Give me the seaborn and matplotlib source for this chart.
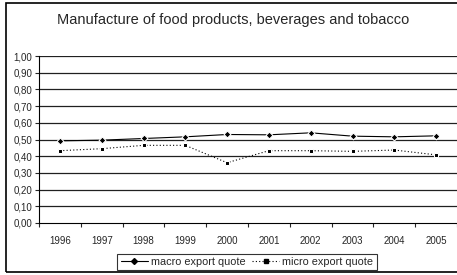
import matplotlib
matplotlib.use("Agg")
import matplotlib.pyplot as plt
from matplotlib.patches import Rectangle
from matplotlib.lines import Line2D
import numpy as np
import pandas as pd
import seaborn as sns

years = ["1996", "1997", "1998", "1999", "2000", "2001", "2002", "2003", "2004", "2005"]
macro_quote = [0.492, 0.496, 0.506, 0.516, 0.530, 0.528, 0.540, 0.520, 0.516, 0.522]
micro_quote = [0.433, 0.445, 0.465, 0.465, 0.361, 0.433, 0.433, 0.429, 0.437, 0.408]
y_ticks = [0.0, 0.1, 0.2, 0.3, 0.4, 0.5, 0.6, 0.7, 0.8, 0.9, 1.0]

sns.set_theme(style="white")
plt.rcParams["font.family"] = ["Liberation Sans", "DejaVu Sans"]

df = pd.DataFrame({
    "year": years * 2,
    "value": macro_quote + micro_quote,
    "series": ["macro export quote"] * len(years) + ["micro export quote"] * len(years),
})

fig = plt.figure(figsize=(4.57, 2.75), dpi=100)
ax = fig.add_axes([39 / 457, 1 - 223 / 275, 1 - 39 / 457, (223 - 56) / 275])

for v in y_ticks[1:]:
    ax.axhline(v, color="#202020", lw=0.9, zorder=0)

sns.lineplot(
    data=df, x="year", y="value", hue="series", style="series",
    palette={"macro export quote": "black", "micro export quote": "black"},
    markers={"macro export quote": "D", "micro export quote": "s"},
    dashes={"macro export quote": "", "micro export quote": (1, 2)},
    markersize=3.5, linewidth=0.8, ax=ax, legend=False,
)

ax.set_xlim(-0.5, 9.5)
ax.set_ylim(0, 1)
ax.set_yticks(y_ticks)
ax.set_yticklabels([f"{v:.2f}".replace(".", ",") for v in y_ticks])
ax.set_xticks(range(len(years)))
ax.set_xticklabels(years)
ax.set_xticks(np.arange(-0.5, 10, 1), minor=True)
ax.tick_params(axis="x", which="major", length=0, pad=9, labelsize=7)
ax.tick_params(axis="x", which="minor", length=3, width=0.8, direction="out", bottom=True)
ax.tick_params(axis="y", length=3, width=0.8, direction="out", left=True, labelsize=7, pad=2)
ax.set_xlabel("")
ax.set_ylabel("")
for side in ["top", "right"]:
    ax.spines[side].set_visible(False)
for side in ["left", "bottom"]:
    ax.spines[side].set_color("black")
    ax.spines[side].set_linewidth(0.8)

fig.text(0.51, 1 - 20 / 275, "Manufacture of food products, beverages and tobacco",
         ha="center", va="center", fontsize=10.5)

handles = [
    Line2D([], [], color="black", lw=0.8, marker="D", markersize=3),
    Line2D([], [], color="black", lw=0.8, ls=(0, (1, 2)), marker="s", markersize=3),
]
leg = fig.legend(handles, ["macro export quote", "micro export quote"],
                 loc="center", bbox_to_anchor=(247 / 457, 1 - 262 / 275), ncol=2,
                 fontsize=7.8, frameon=True, fancybox=False, handlelength=2.5,
                 handletextpad=0.3, columnspacing=0.6, borderpad=0.3)
leg.get_frame().set_edgecolor("black")
leg.get_frame().set_linewidth(0.8)

fig.patches.append(Rectangle((6 / 457, 3 / 275), 460 / 457, 269 / 275,
                             transform=fig.transFigure, fill=False,
                             edgecolor="black", lw=1.2))

fig.savefig("out.png", dpi=100)
